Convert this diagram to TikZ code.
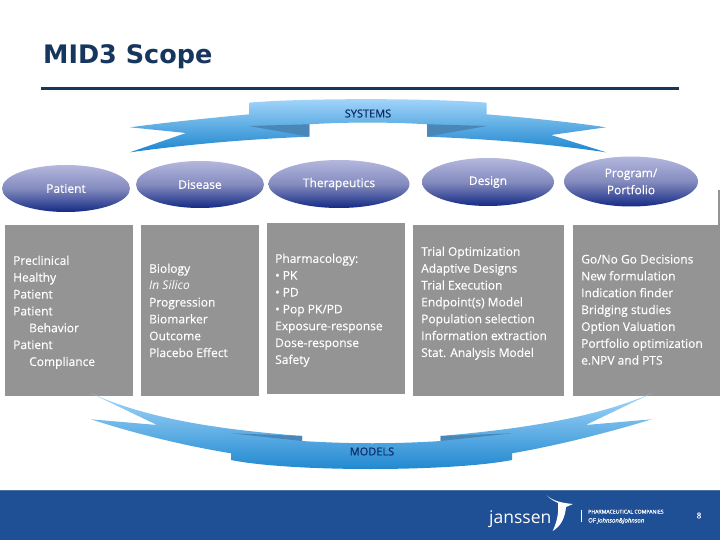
\documentclass[tikz,border=0pt]{standalone}
\usepackage{fontspec}
\usetikzlibrary{shapes.geometric}
\setmainfont{Open Sans}[FakeBold=0.35]
\newfontfamily\titlefont{DejaVu Sans}
\newfontfamily\plainfont{Open Sans}
\definecolor{navy}{HTML}{17365D}
\definecolor{boxgrey}{HTML}{949494}
\definecolor{footblue}{HTML}{1F4F94}
\tikzset{
  x=1pt,y=-1pt,
  oval/.style={ellipse,minimum width=#1,minimum height=47,inner sep=0pt,
    top color=ovaltop,bottom color=ovalbot,middle color=ovalmid,
    text=white,align=center,font=\fontsize{12}{17}\selectfont},
  panel/.style={fill=boxgrey,draw=none},
  paneltext/.style={anchor=north west,inner sep=0pt,text=white,align=left,
    font=\fontsize{12}{16.85}\selectfont},
  banner/.style={top color=bannertop,bottom color=bannerbot,draw=none},
  fold/.style={fill=folddark,draw=none},
  bannerlabel/.style={inner sep=0pt,text=labelnavy,font=\fontsize{11}{13}\selectfont},
}
\definecolor{ovaltop}{HTML}{B4B8DE}
\definecolor{ovalmid}{HTML}{848BBE}
\definecolor{ovalbot}{HTML}{142A84}
\definecolor{bannertop}{HTML}{A4D6FA}
\definecolor{bannerbot}{HTML}{1C86CE}
\definecolor{folddark}{HTML}{4A86B8}
\definecolor{labelnavy}{HTML}{0B2A66}
\begin{document}
\begin{tikzpicture}
\useasboundingbox (0,0) rectangle (720,540);
\fill[white] (0,0) rectangle (720,540);
% title
\node[anchor=base west,inner sep=0pt,text=navy,font=\titlefont\bfseries\fontsize{25.5}{28}\selectfont] (title) at (43,64) {MID3 Scope};
\draw[navy,line width=3pt] (41,89) -- (679,89);
% top banner
\path[banner] (249,102.7) .. controls (300,98) and (430,98) .. (486.7,102.7)
  -- (486.7,114.3) .. controls (530,118) and (570,122) .. (606,127.3)
  -- (551,135) -- (606,152.3) .. controls (550,144) and (490,139) .. (427,136.7)
  -- (427,124.3) .. controls (390,122) and (345,122) .. (309.4,124.3)
  -- (309.4,136.7) .. controls (250,139) and (190,144) .. (130,152.3)
  -- (186,133) -- (130,127.3) .. controls (170,122) and (210,118) .. (249,114.3) -- cycle;
\fill[fold] (249,126) -- (309.4,124.3) -- (309.4,136.7) -- cycle;
\fill[fold] (486.7,126) -- (427,124.3) -- (427,136.7) -- cycle;
\node[bannerlabel] (systems) at (368,113.5) {SYSTEMS};
% ovals
\node[oval=128] (patient) at (66,188.5) {Patient};
\node[oval=128] (disease) at (200,184.5) {Disease};
\node[oval=141,minimum height=48] (therapeutics) at (339,184) {\raisebox{-1pt}{Therapeutics}};
\node[oval=132,minimum height=48] (design) at (488,182) {\raisebox{-1pt}{Design}};
\node[oval=134,minimum height=50] (program) at (631,181.5) {Program/\\Portfolio};
% panels
\fill[boxgrey] (717.5,190) rectangle (720,225);
\fill[panel] (5,225) rectangle (133,396);
\fill[panel] (141,225) rectangle (259,396);
\fill[panel] (267,223) rectangle (405,394);
\fill[panel] (413,225) rectangle (564,396);
\fill[panel] (573,225) rectangle (720,396);
\node[paneltext] (ptxt) at (13,255.5) {Preclinical\\Healthy\\Patient\\Patient\\\hspace*{16pt}Behavior\\Patient\\\hspace*{16pt}Compliance};
\node[paneltext] (dtxt) at (149,263.5) {Biology\\{\plainfont\itshape In Silico}\\Progression\\Biomarker\\Outcome\\Placebo Effect};
\node[paneltext] (ttxt) at (275,253.5) {Pharmacology:\\• PK\\• PD\\• Pop PK/PD\\Exposure-response\\Dose-response\\Safety};
\node[paneltext] (destxt) at (421,246.5) {Trial Optimization\\Adaptive Designs\\Trial Execution\\Endpoint(s) Model\\Population selection\\Information extraction\\Stat. Analysis Model};
\node[paneltext] (prtxt) at (581,254.5) {Go/No Go Decisions\\New formulation\\Indication finder\\Bridging studies\\Option Valuation\\Portfolio optimization\\e.NPV and PTS};
% bottom banner
\path[banner] (91,393.3) .. controls (150,420) and (225,430) .. (302,436)
  -- (302,441) .. controls (350,444) and (395,444) .. (440.6,441)
  -- (440.6,436) .. controls (510,430) and (590,420) .. (651.7,393.3)
  -- (585.7,425) -- (651.7,419.3) .. controls (610,432) and (560,445) .. (512,453.3)
  -- (512,460) .. controls (450,472) and (290,472) .. (231,460)
  -- (231,453.3) .. controls (180,445) and (130,432) .. (91,419.3)
  -- (157,425) -- cycle;
\fill[fold] (231,433.3) -- (302,436) -- (302,441) -- cycle;
\fill[fold] (512,433.3) -- (440.6,436) -- (440.6,441) -- cycle;
\node[bannerlabel] (models) at (372,451.5) {MODELS};
% footer
\fill[footblue] (0,490) rectangle (720,540);
\fill[footblue!80!white] (0,490) rectangle (720,491);
\node[anchor=base west,inner sep=0pt,text=white,font=\plainfont\fontsize{17.5}{20}\selectfont] (janssen) at (489,523) {janssen};
\fill[white] (546.7,495.5) .. controls (553,501) and (562,503) .. (573,504) -- (566,507)
  .. controls (565,518) and (561,526) .. (552.7,531) .. controls (557,522) and (559,512) .. (558,503)
  .. controls (554,501) and (550,499) .. (546.7,495.5) -- cycle;
\draw[white,line width=0.6pt] (581,510) -- (581,522);
\node[anchor=base west,inner sep=0pt,text=white,font=\fontsize{5.2}{5}\selectfont] (pharma) at (588,513.5) {PHARMACEUTICAL COMPANIES};
\node[anchor=base west,inner sep=0pt,text=white,font=\fontsize{6}{6}\selectfont] (jj) at (588,522.5) {OF \textit{Johnson\&Johnson}};
\node[inner sep=0pt,text=white,font=\fontsize{8}{9}\selectfont] (pageno) at (699,515.5) {8};
\end{tikzpicture}
\end{document}
